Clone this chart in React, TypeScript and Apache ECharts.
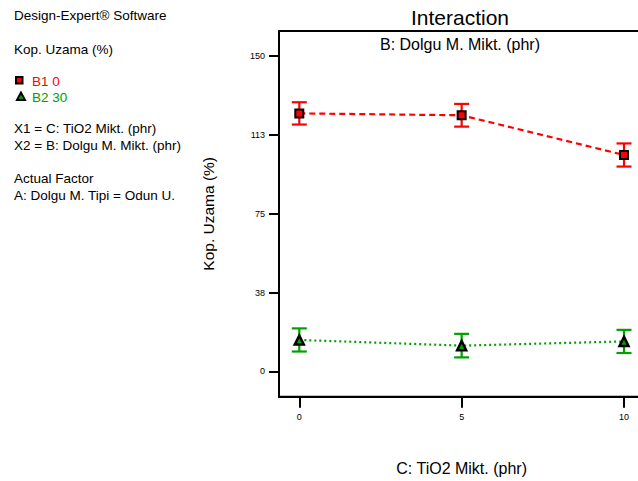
import React, { useEffect, useRef } from "react";
import * as echarts from "echarts";

// C: TiO2 Mikt. (phr) levels
const tio2Levels = [0, 5, 10];
// Predicted Kop. Uzama (%) for each Dolgu M. Mikt. level
const b1Values = [122.8, 121.9, 103.0];
const b2Values = [15.0, 12.3, 14.3];
// Half-width of the LSD bars
const b1Err = [5.3, 5.4, 5.5];
const b2Err = [5.5, 5.6, 5.5];
// Tick positions
const yTicks = [0, 37.5, 75, 112.5, 150];
const xTicks = [0, 5, 10];

const infoLines = [
  "Design-Expert\u00ae Software",
  "Kop. Uzama (%)",
  "X1 = C: TiO2 Mikt. (phr)",
  "X2 = B: Dolgu M. Mikt. (phr)",
  "Actual Factor",
  "A: Dolgu M. Tipi = Odun U.",
];
const legendNames = ["B1 0", "B2 30"];

const RED = "#ff0000";
const GREEN = "#00a000";
const FONT = "Liberation Sans, Arial, sans-serif";

function errorBarRender(color: string) {
  return (params: any, api: any) => {
    const x = api.value(0);
    const lo = api.coord([x, api.value(1)]);
    const hi = api.coord([x, api.value(2)]);
    const hw = 7.5;
    const style = { stroke: color, lineWidth: 2.2 };
    return {
      type: "group",
      children: [
        { type: "line", shape: { x1: hi[0], y1: hi[1], x2: lo[0], y2: lo[1] }, style },
        { type: "line", shape: { x1: hi[0] - hw, y1: hi[1], x2: hi[0] + hw, y2: hi[1] }, style },
        { type: "line", shape: { x1: lo[0] - hw, y1: lo[1], x2: lo[0] + hw, y2: lo[1] }, style },
      ],
    };
  };
}

export default function App() {
  const ref = useRef<HTMLDivElement>(null);

  useEffect(() => {
    if (!ref.current) return;
    const chart = echarts.init(ref.current, undefined, { renderer: "svg" });

    const b1 = tio2Levels.map((x, i) => [x, b1Values[i]]);
    const b2 = tio2Levels.map((x, i) => [x, b2Values[i]]);
    const b1Bars = tio2Levels.map((x, i) => [x, b1Values[i] - b1Err[i], b1Values[i] + b1Err[i]]);
    const b2Bars = tio2Levels.map((x, i) => [x, b2Values[i] - b2Err[i], b2Values[i] + b2Err[i]]);

    const infoY = [15.5, 49, 128.5, 145, 178.5, 195];
    const info = infoLines.map((t, i) => ({
      type: "text",
      x: 14,
      y: infoY[i],
      style: { text: t, fill: "#000", font: `13.5px ${FONT}`, verticalAlign: "middle" },
    }));

    chart.setOption({
      animation: false,
      backgroundColor: "#fff",
      grid: {
        left: 279,
        top: 31,
        right: -6.3,
        bottom: 84.3,
        containLabel: false,
        outerBoundsMode: "none",
        show: true,
        borderColor: "#000",
        borderWidth: 2,
      },
      xAxis: {
        type: "value",
        min: -0.625,
        max: 10.625,
        name: "C: TiO2 Mikt. (phr)",
        nameLocation: "middle",
        nameGap: 64,
        nameTextStyle: { fontFamily: FONT, fontSize: 16, color: "#000" },
        axisLine: { show: true, onZero: false, lineStyle: { color: "#000", width: 2 } },
        axisTick: { show: true, length: 11, customValues: xTicks, lineStyle: { color: "#000", width: 2 } },
        axisLabel: { customValues: xTicks, margin: 16, fontSize: 9, fontFamily: FONT, color: "#000" },
        splitLine: { show: false },
      },
      yAxis: {
        type: "value",
        min: -12,
        max: 162,
        name: "Kop. Uzama (%)",
        nameLocation: "middle",
        nameGap: 63,
        nameTextStyle: { fontFamily: FONT, fontSize: 15.5, color: "#000" },
        axisLine: { show: true, onZero: false, lineStyle: { color: "#000", width: 2 } },
        axisTick: { show: true, length: 10, customValues: yTicks, lineStyle: { color: "#000", width: 2 } },
        axisLabel: {
          customValues: yTicks,
          margin: 14,
          fontSize: 9,
          fontFamily: FONT,
          color: "#000",
          formatter: (v: number) => String(Math.round(v)),
        },
        splitLine: { show: false },
      },
      graphic: [
        {
          type: "text",
          x: 460,
          y: 17,
          style: { text: "Interaction", fill: "#000", font: `21px ${FONT}`, align: "center", verticalAlign: "middle" },
        },
        {
          type: "text",
          x: 460,
          y: 44,
          style: { text: "B: Dolgu M. Mikt. (phr)", fill: "#000", font: `16px ${FONT}`, align: "center", verticalAlign: "middle" },
        },
        ...info,
        { type: "rect", shape: { x: 16, y: 77, width: 6.5, height: 6.5 }, style: { fill: RED, stroke: "#000", lineWidth: 2 } },
        {
          type: "polygon",
          shape: { points: [[21, 92.5], [17, 100], [25, 100]] },
          style: { fill: GREEN, stroke: "#000", lineWidth: 2 },
        },
        {
          type: "text",
          x: 32,
          y: 81,
          style: { text: legendNames[0], fill: RED, font: `13.5px ${FONT}`, verticalAlign: "middle" },
        },
        {
          type: "text",
          x: 32,
          y: 97,
          style: { text: legendNames[1], fill: GREEN, font: `13.5px ${FONT}`, verticalAlign: "middle" },
        },
      ],
      series: [
        {
          type: "custom",
          name: "B1 bars",
          renderItem: errorBarRender(RED),
          data: b1Bars,
          encode: { x: 0, y: [1, 2] },
          z: 1,
        },
        {
          type: "custom",
          name: "B2 bars",
          renderItem: errorBarRender(GREEN),
          data: b2Bars,
          encode: { x: 0, y: [1, 2] },
          z: 1,
        },
        {
          type: "line",
          name: legendNames[0],
          data: b1,
          symbol: "rect",
          symbolSize: 8,
          itemStyle: { color: RED, borderColor: "#000", borderWidth: 2 },
          lineStyle: { color: RED, width: 2.2, type: [6, 4] },
          z: 3,
        },
        {
          type: "line",
          name: legendNames[1],
          data: b2,
          symbol: "triangle",
          symbolSize: 9,
          itemStyle: { color: GREEN, borderColor: "#000", borderWidth: 2.5 },
          lineStyle: { color: GREEN, width: 2.2, type: [2, 3] },
          z: 3,
        },
      ],
    });

    return () => chart.dispose();
  }, []);

  return (
    <div
      ref={ref}
      style={{ position: "absolute", left: 0, top: 0, width: 638, height: 481 }}
    />
  );
}
